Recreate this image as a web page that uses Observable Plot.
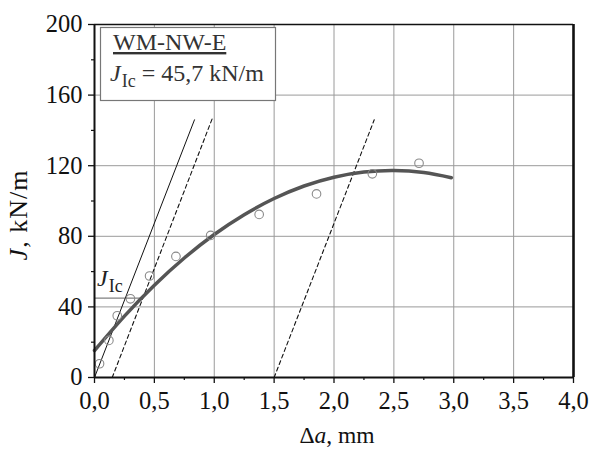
<!DOCTYPE html>
<html><head><meta charset="utf-8">
<script src="https://cdn.jsdelivr.net/npm/d3@7"></script>
<script src="https://cdn.jsdelivr.net/npm/@observablehq/plot@0.6"></script>
<style>
body{margin:0;background:#fff;}
#wrap{width:589px;height:449px;}
</style></head><body><div id="wrap"></div>
<script>
// ---- data ----
const xMajorTicks = [0, 0.5, 1, 1.5, 2, 2.5, 3, 3.5, 4];
const xTickLabels = ["0,0","0,5","1,0","1,5","2,0","2,5","3,0","3,5","4,0"];
const xMinorTicks = [0.25, 0.75, 1.25, 1.75, 2.25, 2.75, 3.25, 3.75];
const yMajorTicks = [0, 40, 80, 120, 160, 200];
const yMinorTicks = [20, 60, 100, 140, 180];
const xGrid = [0.5, 1, 1.5, 2, 2.5, 3, 3.5];
const yGrid = [40, 80, 120, 160];

const pointDa = [0.042, 0.12, 0.19, 0.30, 0.46, 0.68, 0.97, 1.375, 1.854, 2.32, 2.71];
const pointJ  = [7.8, 21.0, 35.0, 44.6, 57.5, 68.6, 80.5, 92.4, 104.0, 115.4, 121.4];

const fitDa = [0, 0.25, 0.5, 0.75, 1.0, 1.25, 1.5, 1.75, 2.0, 2.25, 2.5, 2.75, 2.98];
const fitJ  = [15.3, 34.8, 52.3, 67.7, 81.0, 92.2, 101.4, 108.5, 113.5, 116.4, 117.3, 116.1, 113.2];

const bluntDa = [0, 0.835];      const bluntJ = [0, 146];
const offset1Da = [0.148, 0.985]; const offset1J = [0, 147];
const offset2Da = [1.5, 2.336];   const offset2J = [0, 146];
const jicDa = [0, 0.40];          const jicJ = [45, 45];

const legendName = "WM-NW-E";
const legendValue = " = 45,7 kN/m";

const toRows = (xs, ys) => xs.map((x, i) => ({x, y: ys[i]}));

const W = 589, H = 449;
const svg = Plot.plot({
  width: W, height: H,
  marginLeft: 94, marginRight: 16, marginTop: 24, marginBottom: 72,
  style: {fontFamily: "'Liberation Serif', serif", fontSize: "24.5px", color: "#111", background: "#fff"},
  x: {domain: [0, 4]},
  y: {domain: [0, 200]},
  marks: [
    Plot.ruleX(xGrid, {stroke: "#9a9a9a", strokeWidth: 1}),
    Plot.ruleY(yGrid, {stroke: "#9a9a9a", strokeWidth: 1}),
    Plot.line(toRows(jicDa, jicJ), {x: "x", y: "y", stroke: "#808080", strokeWidth: 1.2}),
    Plot.line(toRows(bluntDa, bluntJ), {x: "x", y: "y", stroke: "#111", strokeWidth: 1}),
    Plot.line(toRows(offset1Da, offset1J), {x: "x", y: "y", stroke: "#111", strokeWidth: 1.1, strokeDasharray: "4,3"}),
    Plot.line(toRows(offset2Da, offset2J), {x: "x", y: "y", stroke: "#111", strokeWidth: 1.1, strokeDasharray: "4,3"}),
    Plot.line(toRows(fitDa, fitJ), {x: "x", y: "y", stroke: "#555", strokeWidth: 3.5, curve: "natural"}),
    Plot.dot(toRows(pointDa, pointJ), {x: "x", y: "y", r: 4.3, stroke: "#8a8a8a", strokeWidth: 1.1, fill: "none"}),
    Plot.ruleY([200], {stroke: "#111", strokeWidth: 1.6}),
    Plot.ruleX([4], {stroke: "#111", strokeWidth: 2.6}),
    Plot.ruleY([0], {stroke: "#111", strokeWidth: 2}),
    Plot.ruleX([0], {stroke: "#111", strokeWidth: 2}),
    Plot.axisX({ticks: xMajorTicks, tickSize: 6, tickPadding: 8, tickFormat: (d) => xTickLabels[xMajorTicks.indexOf(d)], label: null, strokeWidth: 1.3}),
    Plot.axisX({ticks: xMinorTicks, tickSize: 3, tickFormat: () => "", label: null, strokeWidth: 1.2}),
    Plot.axisY({ticks: yMajorTicks, tickSize: 6, tickPadding: 6, tickFormat: d => String(d), label: null, strokeWidth: 1.3}),
    Plot.axisY({ticks: yMinorTicks, tickSize: 3, tickFormat: () => "", label: null, strokeWidth: 1.2})
  ]
});
document.getElementById("wrap").appendChild(svg);

const s = d3.select(svg);
const font = "'Liberation Serif', serif";
// y axis title
const yt = s.append("text").attr("transform", "translate(27,215) rotate(-90)")
  .attr("text-anchor", "middle").attr("font-family", font).attr("font-size", 26).attr("fill", "#111")
  .attr("letter-spacing", 1);
yt.append("tspan").attr("font-style", "italic").text("J");
yt.append("tspan").text(", kN/m");
// x axis title
const xt = s.append("text").attr("x", 337).attr("y", 443)
  .attr("text-anchor", "middle").attr("font-family", font).attr("font-size", 23.5).attr("fill", "#111");
xt.append("tspan").text("Δ");
xt.append("tspan").attr("font-style", "italic").text("a");
xt.append("tspan").text(", mm");
// J_Ic label on plot
const jl = s.append("text").attr("x", 97).attr("y", 286).attr("text-anchor", "start")
  .attr("font-family", font).attr("font-size", 24).attr("fill", "#222");
jl.append("tspan").attr("font-style", "italic").text("J");
jl.append("tspan").attr("font-size", 18).attr("dy", 6).attr("dx", 1).text("Ic");
// legend box
s.append("rect").attr("x", 100.5).attr("y", 27.5).attr("width", 175).attr("height", 73)
  .attr("fill", "#fff").attr("stroke", "#777").attr("stroke-width", 1.2);
s.append("text").attr("x", 113).attr("y", 50).attr("text-anchor", "start").attr("font-family", font).attr("font-size", 24)
  .attr("fill", "#333").attr("text-decoration", "underline").text(legendName);
const lv = s.append("text").attr("x", 110).attr("y", 81).attr("text-anchor", "start")
  .attr("font-family", font).attr("font-size", 24).attr("fill", "#333");
lv.append("tspan").attr("font-style", "italic").text("J");
lv.append("tspan").attr("font-size", 18).attr("dy", 6).attr("dx", 1).text("Ic");
lv.append("tspan").attr("dy", -6).text(legendValue);
</script></body></html>
